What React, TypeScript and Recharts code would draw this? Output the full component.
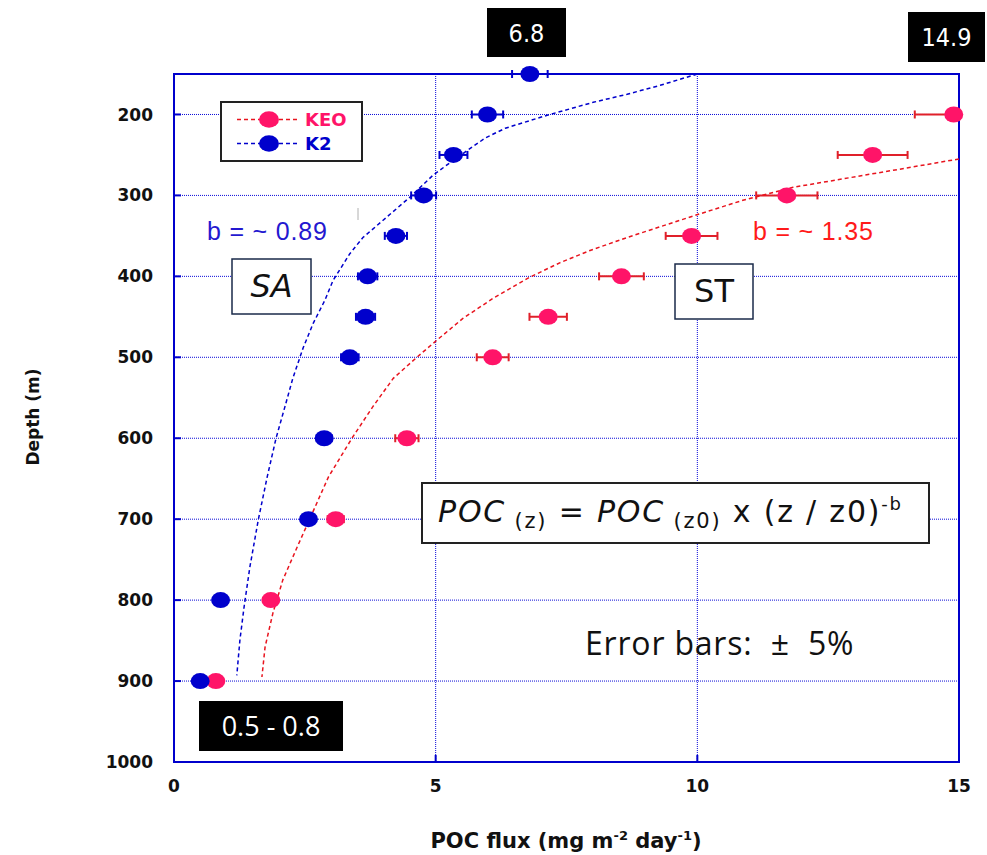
import React from 'react';
import { ScatterChart, Scatter, XAxis, YAxis, CartesianGrid, ErrorBar, ReferenceArea } from 'recharts';

// Measured profiles (depth in m, POC flux in mg m-2 day-1)
const k2Depth = [150, 200, 250, 300, 350, 400, 450, 500, 600, 700, 800, 900];
const k2Flux = [6.8, 5.99, 5.34, 4.77, 4.24, 3.7, 3.66, 3.36, 2.87, 2.57, 0.89, 0.5];
const keoDepth = [200, 250, 300, 350, 400, 450, 500, 600, 700, 800, 900];
const keoFlux = [14.9, 13.35, 11.71, 9.89, 8.55, 7.15, 6.09, 4.45, 3.09, 1.85, 0.8];

// Fitted curves
const k2FitDepth = [150, 164, 175, 185, 201, 217, 229, 242, 257, 275, 302, 331, 352, 372, 405, 430, 458, 488, 526, 561, 600, 648, 701, 759, 808, 849, 893];
const k2FitFlux = [10.0, 9.29, 8.66, 8.01, 7.13, 6.33, 5.95, 5.66, 5.33, 4.95, 4.51, 3.99, 3.61, 3.36, 3.04, 2.88, 2.66, 2.47, 2.27, 2.12, 1.95, 1.78, 1.61, 1.45, 1.34, 1.26, 1.2];
const keoFitDepth = [255, 269, 290, 306, 324, 352, 368, 383, 401, 427, 452, 479, 500, 526, 561, 600, 648, 693, 735, 775, 816, 858, 895];
const keoFitFlux = [15.0, 13.74, 11.83, 10.87, 9.99, 8.66, 7.95, 7.38, 6.8, 6.1, 5.52, 5.02, 4.64, 4.19, 3.8, 3.4, 2.95, 2.64, 2.35, 2.08, 1.89, 1.74, 1.68];

const xTicks = [0, 5, 10, 15];
const yTicks = [200, 300, 400, 500, 600, 700, 800, 900, 1000];
const X_MAX = 15;
const ERROR_FRACTION = 0.05; // "Error bars: ± 5%"

const PINK = '#ff1468';
const BLUE = '#0000cc';
const RED_LINE = '#e8141e';
const RED_BAR = '#e0202a';
const GRID = '#0a0ad8';

const toPoints = (depths: number[], flux: number[]) =>
  depths.map((d, i) => {
    const v = flux[i];
    const e = v * ERROR_FRACTION;
    return { x: v, depth: d, err: [e, Math.min(e, X_MAX - v)] };
  });
const toCurve = (depths: number[], flux: number[]) => depths.map((d, i) => ({ x: flux[i], depth: d }));

const k2Points = toPoints(k2Depth, k2Flux);
const keoPoints = toPoints(keoDepth, keoFlux);
const k2Curve = toCurve(k2FitDepth, k2FitFlux);
const keoCurve = toCurve(keoFitDepth, keoFitFlux);

const ellipse = (color: string) => (props: any) =>
  props.cx == null ? <g /> : <ellipse cx={props.cx} cy={props.cy} rx={9.5} ry={8} fill={color} />;
const noShape = () => <g />;

const tickFont = { fontFamily: 'DejaVu Sans', fontWeight: 700, fontSize: 17, fill: '#111' };
const tickLineStyle = { stroke: BLUE, strokeWidth: 2 };

export default function App() {
  return (
    <div style={{ position: 'absolute', left: 0, top: 0, width: 987, height: 855, background: '#fff' }}>
      <ScatterChart width={987} height={855} margin={{ top: 74, right: 28, bottom: 63, left: 104 }}>
        <CartesianGrid stroke={GRID} strokeDasharray="1 1" strokeWidth={1} />
        <XAxis
          type="number"
          dataKey="x"
          domain={[0, X_MAX]}
          ticks={xTicks}
          height={30}
          tickSize={-7}
          tickMargin={25}
          axisLine={false}
          tickLine={tickLineStyle}
          tick={tickFont}
        />
        <XAxis
          xAxisId="top"
          orientation="top"
          type="number"
          domain={[0, X_MAX]}
          ticks={xTicks}
          height={0}
          mirror
          tickSize={7}
          axisLine={false}
          tickLine={tickLineStyle}
          tick={false}
        />
        <YAxis
          type="number"
          dataKey="depth"
          domain={[150, 1000]}
          reversed
          ticks={yTicks}
          width={70}
          tickSize={-7}
          tickMargin={28}
          axisLine={false}
          tickLine={tickLineStyle}
          tick={tickFont}
        />
        <YAxis
          yAxisId="right"
          orientation="right"
          type="number"
          domain={[150, 1000]}
          reversed
          ticks={yTicks}
          width={0}
          mirror
          tickSize={7}
          axisLine={false}
          tickLine={tickLineStyle}
          tick={false}
        />
        <ReferenceArea x1={0} x2={X_MAX} y1={150} y2={1000} fill="none" stroke={BLUE} strokeWidth={2} ifOverflow="visible" />
        <Scatter
          data={keoCurve}
          shape={noShape}
          line={{ stroke: RED_LINE, strokeWidth: 1.5, strokeDasharray: '4 3' }}
          lineType="joint"
          isAnimationActive={false}
          legendType="none"
        />
        <Scatter
          data={k2Curve}
          shape={noShape}
          line={{ stroke: BLUE, strokeWidth: 1.5, strokeDasharray: '4 3' }}
          lineType="joint"
          isAnimationActive={false}
          legendType="none"
        />
        <Scatter data={keoPoints} shape={ellipse(PINK)} isAnimationActive={false}>
          <ErrorBar dataKey="err" direction="x" width={4} stroke={RED_BAR} strokeWidth={2} isAnimationActive={false} />
        </Scatter>
        <Scatter data={k2Points} shape={ellipse(BLUE)} isAnimationActive={false}>
          <ErrorBar dataKey="err" direction="x" width={4} stroke={BLUE} strokeWidth={2} isAnimationActive={false} />
        </Scatter>
      </ScatterChart>

      <svg
        width={987}
        height={855}
        style={{ position: 'absolute', left: 0, top: 0, pointerEvents: 'none' }}
      >
        {/* axis titles */}
        <text
          transform="translate(39,417) rotate(-90)"
          textAnchor="middle"
          style={{ fontFamily: 'DejaVu Sans', fontWeight: 700, fontSize: 17, fill: '#111' }}
        >
          Depth (m)
        </text>
        <text
          x={566}
          y={848}
          textAnchor="middle"
          style={{ fontFamily: 'DejaVu Sans', fontWeight: 700, fontSize: 21, fill: '#111' }}
        >
          POC flux (mg m
          <tspan dy={-8} fontSize={13}>-2</tspan>
          <tspan dy={8}> day</tspan>
          <tspan dy={-8} fontSize={13}>-1</tspan>
          <tspan dy={8}>)</tspan>
        </text>

        {/* legend */}
        <rect x={221} y={102} width={141} height={59} fill="#fff" stroke="#222" strokeWidth={2} />
        <line x1={237} y1={119.5} x2={298} y2={119.5} stroke={RED_LINE} strokeWidth={1.5} strokeDasharray="4 3" />
        <ellipse cx={269} cy={119.5} rx={10} ry={8.3} fill={PINK} />
        <text x={305} y={126} style={{ fontFamily: 'DejaVu Sans', fontWeight: 700, fontSize: 18, fill: PINK }}>KEO</text>
        <line x1={237} y1={143.5} x2={298} y2={143.5} stroke={BLUE} strokeWidth={1.5} strokeDasharray="4 3" />
        <ellipse cx={269} cy={143.5} rx={10} ry={8.3} fill={BLUE} />
        <text x={305} y={150} style={{ fontFamily: 'DejaVu Sans', fontWeight: 700, fontSize: 18, fill: BLUE }}>K2</text>

        {/* stray mark */}
        <line x1={358} y1={208} x2={358} y2={220} stroke="#b0b0b0" strokeWidth={1} />

        {/* exponents */}
        <text x={207} y={240} style={{ fontFamily: 'Liberation Sans', fontSize: 25, letterSpacing: 0.8, fill: '#2418d0' }}>b = ~ 0.89</text>
        <text x={753} y={240} style={{ fontFamily: 'Liberation Sans', fontSize: 25, letterSpacing: 0.8, fill: '#ff1a1a' }}>b = ~ 1.35</text>

        {/* region boxes */}
        <rect x={232} y={259} width={79} height={55} fill="#fff" stroke="#1a2a4a" strokeWidth={1.5} />
        <text x={271.5} y={297} textAnchor="middle" style={{ fontFamily: 'DejaVu Sans', fontStyle: 'italic', fontSize: 32, fill: '#111' }}>SA</text>
        <rect x={675} y={264} width={78} height={55} fill="#fff" stroke="#1a2a4a" strokeWidth={1.5} />
        <text x={714} y={302} textAnchor="middle" style={{ fontFamily: 'DejaVu Sans', fontSize: 32, fill: '#111' }}>ST</text>

        {/* formula */}
        <rect x={422} y={483} width={507} height={60} fill="#fff" stroke="#222" strokeWidth={2} />
        <text x={438} y={522} style={{ fontFamily: 'DejaVu Sans', fontSize: 30, letterSpacing: 1.8, fill: '#111', whiteSpace: 'pre' }}>
          <tspan fontStyle="italic">POC</tspan>
          <tspan fontSize={21} dy={6}>{' (z)'}</tspan>
          <tspan dy={-6}>{' = '}</tspan>
          <tspan fontStyle="italic">POC</tspan>
          <tspan fontSize={21} dy={6}>{' (z0)'}</tspan>
          <tspan dy={-6}>{' x (z / z0)'}</tspan>
          <tspan fontSize={18} dy={-12}>-b</tspan>
        </text>

        {/* error bar note */}
        <text x={585} y={655} style={{ fontFamily: 'Open Sans', fontSize: 32, letterSpacing: 0.8, fill: '#111', whiteSpace: 'pre' }}>
          {'Error bars:  \u00b1  5%'}
        </text>

        {/* value callouts */}
        <rect x={487} y={8} width={79} height={49} fill="#000" />
        <text x={526.5} y={42} textAnchor="middle" style={{ fontFamily: 'Liberation Sans Narrow, DejaVu Sans Condensed, Liberation Sans', fontSize: 25, fill: '#fff' }}>6.8</text>
        <rect x={908} y={12} width={77} height={50} fill="#000" />
        <text x={946.5} y={46} textAnchor="middle" style={{ fontFamily: 'Liberation Sans Narrow, DejaVu Sans Condensed, Liberation Sans', fontSize: 25, fill: '#fff' }}>14.9</text>
        <rect x={199} y={701} width={144} height={50} fill="#000" />
        <text x={271} y={736} textAnchor="middle" style={{ fontFamily: 'Open Sans', fontSize: 27, fill: '#fff' }}>0.5 - 0.8</text>
      </svg>
    </div>
  );
}
